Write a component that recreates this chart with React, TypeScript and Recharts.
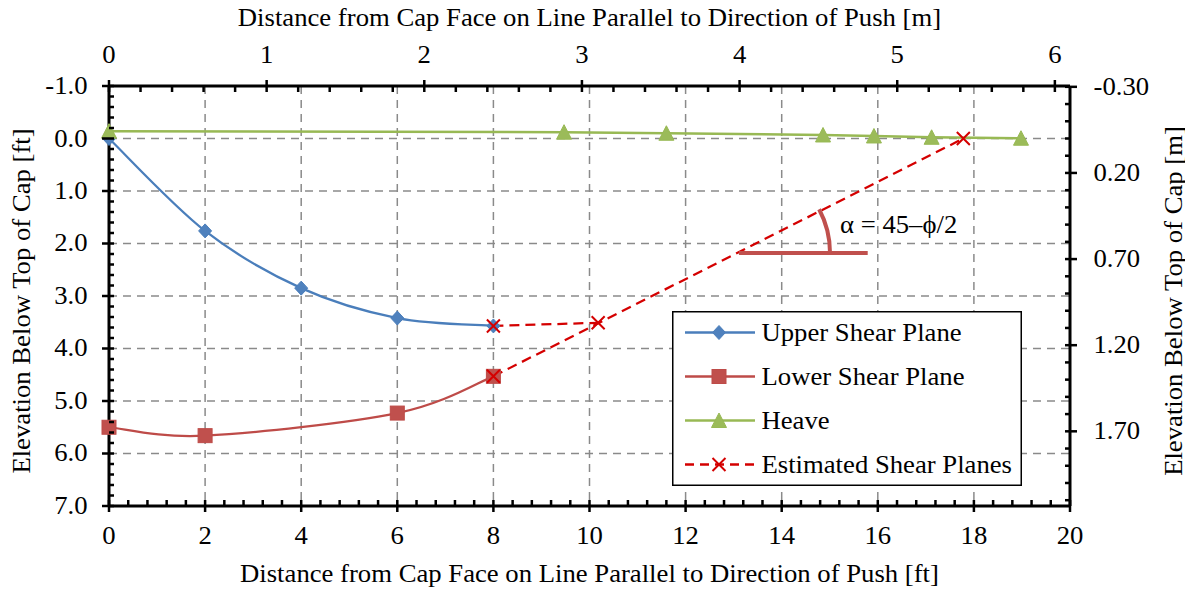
import React from 'react';
import {
  ComposedChart,
  Line,
  XAxis,
  YAxis,
  CartesianGrid,
  Legend,
  ReferenceLine,
  ReferenceDot,
} from 'recharts';

// ---------------- data ----------------
const upperX = [0, 2, 4, 6, 8];
const upperY = [0.0, 1.76, 2.85, 3.42, 3.57];

const lowerX = [0, 2, 6, 8];
const lowerY = [5.5, 5.66, 5.23, 4.53];

const heaveX = [0, 9.47, 11.6, 14.86, 15.92, 17.12, 18.98];
const heaveY = [-0.14, -0.12, -0.1, -0.067, -0.048, -0.023, -0.005];

const estUpperX = [8, 10.18];
const estUpperY = [3.57, 3.51];
const estLowerX = [8, 17.78];
const estLowerY = [4.53, 0.0];

const xMajorFt = [0, 2, 4, 6, 8, 10, 12, 14, 16, 18, 20];
const yMajorFt = [-1, 0, 1, 2, 3, 4, 5, 6, 7];
const xMajorM = [0, 1, 2, 3, 4, 5, 6];
const yMajorM = [-0.3, 0.2, 0.7, 1.2, 1.7];
const xGridFt = [2, 4, 6, 8, 10, 12, 14, 16, 18];
const yGridFt = [0, 1, 2, 3, 4, 5, 6];

const seriesNames = ['Upper Shear Plane', 'Lower Shear Plane', 'Heave', 'Estimated Shear Planes'];
const xTitleFt = 'Distance from Cap Face on Line Parallel to Direction of Push [ft]';
const xTitleM = 'Distance from Cap Face on Line Parallel to Direction of Push [m]';
const yTitleFt = 'Elevation Below Top of Cap [ft]';
const yTitleM = 'Elevation Below Top of Cap [m]';
const angleText = 'α = 45–ϕ/2';
const angleLineX = [13.11, 15.79];
const angleLineY = 2.18;
const angleVertex = { x: 13.07, y: 2.18 };

// ---------------- helpers ----------------
const FT_TO_M = 0.3048;
const steps = (a: number, b: number, s: number) => {
  const out: number[] = [];
  const n = Math.round((b - a) / s);
  for (let i = 0; i <= n; i++) out.push(Math.round((a + i * s) * 1000) / 1000);
  return out;
};
const pts = (xs: number[], ys: number[]) => xs.map((x, i) => ({ x, y: ys[i] }));

const upperData = pts(upperX, upperY);
const lowerData = pts(lowerX, lowerY);
const heaveData = pts(heaveX, heaveY);
const estUpperData = pts(estUpperX, estUpperY);
const estLowerData = pts(estLowerX, estLowerY);

const xTicksFt = steps(0, 20, 0.4);
const yTicksFt = steps(-1, 7, 0.2);
const xTicksM = steps(0, 6, 0.2);
const yTicksM = steps(-0.3, 2.1, 0.1);

const FONT = '"Liberation Serif", "Times New Roman", Times, serif';
const FS = 24.5;
const SX = 1.09;
const BLUE = '#4A7EBB';
const BLUE_F = '#4F81BD';
const RED = '#BE4B48';
const RED_F = '#C0504D';
const GREEN = '#98B954';
const GREEN_F = '#9BBB59';
const EST = '#D40000';

const W = 1193;
const H = 589;
const LEFT_W = 109;
const RIGHT_W = 123;
const TOP_H = 86;
const BOTTOM_H = 83;
const PLOT_L = LEFT_W;
const PLOT_R = W - RIGHT_W;
const PLOT_B = H - BOTTOM_H;

const isMajor = (v: number, majors: number[]) => majors.some((m) => Math.abs(m - v) < 1e-6);

const textStyle = { fontFamily: FONT, fontSize: FS, fill: '#000' } as const;
const tickStroke = { stroke: '#000', strokeWidth: 2.5 } as const;

// Text slightly widened to match the reference's wide serif face
const SText = ({ x, y, anchor = 'start', rotate, children }: any) => {
  const tf = `${rotate ? `rotate(${rotate},${x},${y}) ` : ''}translate(${x},${y}) scale(${SX},1) translate(${-x},${-y})`;
  return (
    <text x={x} y={y} textAnchor={anchor} transform={tf} {...textStyle}>
      {children}
    </text>
  );
};

const makeTick =
  (side: 'bottom' | 'top' | 'left' | 'right', majors: number[], fmt: (v: number) => string) =>
  (props: any) => {
    const { x, y, payload } = props;
    const v = payload.value as number;
    const major = isMajor(v, majors);
    let line: React.ReactNode = null;
    let text: React.ReactNode = null;
    if (side === 'bottom') {
      line = <line x1={x} x2={x} y1={y - 6} y2={major ? y + 6 : y} {...tickStroke} />;
      if (major) text = <SText x={x} y={y + 38.5} anchor="middle">{fmt(v)}</SText>;
    } else if (side === 'top') {
      line = <line x1={x} x2={x} y1={major ? y - 6 : y} y2={y + 6} {...tickStroke} />;
      if (major) text = <SText x={x} y={y - 22.5} anchor="middle">{fmt(v)}</SText>;
    } else if (side === 'left') {
      line = <line x1={major ? x - 7 : x} x2={x + 5} y1={y} y2={y} {...tickStroke} />;
      if (major) text = <SText x={x - 21.5} y={y + 8} anchor="end">{fmt(v)}</SText>;
    } else {
      line = <line x1={x - 5} x2={major ? x + 7 : x} y1={y} y2={y} {...tickStroke} />;
      if (major) text = <SText x={x + 23.5} y={y + 8} anchor="start">{fmt(v)}</SText>;
    }
    return (
      <g>
        {line}
        {text}
      </g>
    );
  };

const BottomTick = makeTick('bottom', xMajorFt, (v) => String(v));
const TopTick = makeTick('top', xMajorM, (v) => String(v));
const LeftTick = makeTick('left', yMajorFt, (v) => v.toFixed(1));
const RightTick = makeTick('right', yMajorM, (v) => v.toFixed(2));

// Excel-like smoothing (Catmull-Rom style Bezier)
const excelCurve = (context: any) => {
  let p: number[][] = [];
  return {
    areaStart() {},
    areaEnd() {},
    lineStart() {
      p = [];
    },
    point(x: number, y: number) {
      p.push([x, y]);
    },
    lineEnd() {
      if (!p.length) return;
      context.moveTo(p[0][0], p[0][1]);
      for (let i = 0; i < p.length - 1; i++) {
        const p0 = p[i - 1] || p[i];
        const p1 = p[i];
        const p2 = p[i + 1];
        const p3 = p[i + 2] || p2;
        context.bezierCurveTo(
          p1[0] + (p2[0] - p0[0]) / 6,
          p1[1] + (p2[1] - p0[1]) / 6,
          p2[0] - (p3[0] - p1[0]) / 6,
          p2[1] - (p3[1] - p1[1]) / 6,
          p2[0],
          p2[1]
        );
      }
    },
  };
};

// markers
const Diamond = ({ cx, cy }: any) => (
  <path d={`M${cx},${cy - 7}L${cx + 6.5},${cy}L${cx},${cy + 7}L${cx - 6.5},${cy}Z`} fill={BLUE_F} stroke={BLUE} strokeWidth={1} />
);
const Square = ({ cx, cy }: any) => (
  <rect x={cx - 7} y={cy - 7} width={14} height={14} fill={RED_F} stroke={RED} strokeWidth={1} />
);
const Triangle = ({ cx, cy }: any) => (
  <path d={`M${cx},${cy - 7.5}L${cx + 7.5},${cy + 7}L${cx - 7.5},${cy + 7}Z`} fill={GREEN_F} stroke={GREEN} strokeWidth={1} />
);
const Cross = ({ cx, cy }: any) => (
  <path d={`M${cx - 6.5},${cy - 6.5}L${cx + 6.5},${cy + 6.5}M${cx - 6.5},${cy + 6.5}L${cx + 6.5},${cy - 6.5}`} stroke={EST} strokeWidth={2} fill="none" />
);

const dotOf = (Comp: any) => (props: any) => {
  const { cx, cy, index } = props;
  if (cx == null || cy == null) return <g key={`n${index}`} />;
  return (
    <g key={`d${index}`}>
      <Comp cx={cx} cy={cy} />
    </g>
  );
};

const LegendBox = () => {
  const rows = [
    { color: BLUE, marker: Diamond, dash: undefined },
    { color: RED, marker: Square, dash: undefined },
    { color: GREEN, marker: Triangle, dash: undefined },
    { color: EST, marker: Cross, dash: '9 6' },
  ];
  return (
    <svg width={350} height={175} style={{ display: 'block' }}>
      <rect x={0.75} y={0.75} width={348.5} height={173.5} fill="#fff" stroke="#000" strokeWidth={1.5} />
      {rows.map((r, i) => {
        const cy = 21.5 + i * 44;
        const M = r.marker;
        return (
          <g key={i}>
            <line x1={13} x2={83} y1={cy} y2={cy} stroke={r.color} strokeWidth={2.5} strokeDasharray={r.dash} />
            <M cx={47} cy={cy} />
            <SText x={89.5} y={cy + 8.5}>
              {seriesNames[i]}
            </SText>
          </g>
        );
      })}
    </svg>
  );
};

const AngleMark = (props: any) => {
  const { cx, cy } = props;
  const r = 93;
  const th = (28 * Math.PI) / 180;
  return (
    <g>
      <path
        d={`M${cx + r},${cy}A${r},${r} 0 0 0 ${cx + r * Math.cos(th)},${cy - r * Math.sin(th)}`}
        fill="none"
        stroke={RED_F}
        strokeWidth={4}
      />
      <SText x={cx + 103} y={cy - 19.5}>
        {angleText}
      </SText>
    </g>
  );
};

const axisLine = { stroke: '#000', strokeWidth: 3 };

export default function App() {
  return (
    <div style={{ width: W, height: H, marginTop: -8, marginLeft: -8 }}>
      <ComposedChart width={W} height={H} margin={{ top: 0, right: 0, bottom: 0, left: 0 }}>
        <CartesianGrid
          xAxisId="ft"
          yAxisId="ft"
          verticalValues={xGridFt}
          horizontalValues={yGridFt}
          stroke="#8A8A8A"
          strokeWidth={1.5}
          strokeDasharray="8 6"
        />
        <XAxis
          xAxisId="ft"
          orientation="bottom"
          type="number"
          dataKey="x"
          domain={[0, 20]}
          ticks={xTicksFt}
          interval={0}
          tickSize={0}
          tickMargin={0}
          tickLine={false}
          tick={BottomTick}
          axisLine={axisLine}
          height={BOTTOM_H}
          label={() => (
            <SText x={(PLOT_L + PLOT_R) / 2} y={PLOT_B + 76.5} anchor="middle">
              {xTitleFt}
            </SText>
          )}
        />
        <XAxis
          xAxisId="m"
          orientation="top"
          type="number"
          dataKey="x"
          domain={[0, 20 * FT_TO_M]}
          allowDataOverflow
          ticks={xTicksM}
          interval={0}
          tickSize={0}
          tickMargin={0}
          tickLine={false}
          tick={TopTick}
          axisLine={axisLine}
          height={TOP_H}
          label={() => (
            <SText x={(PLOT_L + PLOT_R) / 2} y={26} anchor="middle">
              {xTitleM}
            </SText>
          )}
        />
        <YAxis
          yAxisId="ft"
          orientation="left"
          type="number"
          dataKey="y"
          domain={[-1, 7]}
          reversed
          ticks={yTicksFt}
          interval={0}
          tickSize={0}
          tickMargin={0}
          tickLine={false}
          tick={LeftTick}
          axisLine={axisLine}
          width={LEFT_W}
          label={() => (
            <SText x={30} y={301} anchor="middle" rotate={-90}>
              {yTitleFt}
            </SText>
          )}
        />
        <YAxis
          yAxisId="m"
          orientation="right"
          type="number"
          dataKey="y"
          domain={[-1 * FT_TO_M, 7 * FT_TO_M]}
          reversed
          allowDataOverflow
          ticks={yTicksM}
          interval={0}
          tickSize={0}
          tickMargin={0}
          tickLine={false}
          tick={RightTick}
          axisLine={axisLine}
          width={RIGHT_W}
          label={() => (
            <SText x={1182} y={301} anchor="middle" rotate={-90}>
              {yTitleM}
            </SText>
          )}
        />

        <Line
          xAxisId="ft"
          yAxisId="ft"
          data={upperData}
          dataKey="y"
          name={seriesNames[0]}
          type={excelCurve as any}
          stroke={BLUE}
          strokeWidth={2.25}
          dot={dotOf(Diamond)}
          activeDot={false}
          isAnimationActive={false}
        />
        <Line
          xAxisId="ft"
          yAxisId="ft"
          data={lowerData}
          dataKey="y"
          name={seriesNames[1]}
          type={excelCurve as any}
          stroke={RED}
          strokeWidth={2.25}
          dot={dotOf(Square)}
          activeDot={false}
          isAnimationActive={false}
        />
        <Line
          xAxisId="ft"
          yAxisId="ft"
          data={heaveData}
          dataKey="y"
          name={seriesNames[2]}
          type="linear"
          stroke={GREEN}
          strokeWidth={2.5}
          dot={dotOf(Triangle)}
          activeDot={false}
          isAnimationActive={false}
        />
        <Line
          xAxisId="ft"
          yAxisId="ft"
          data={estUpperData}
          dataKey="y"
          name={seriesNames[3]}
          type="linear"
          stroke={EST}
          strokeWidth={2.25}
          strokeDasharray="10 6"
          dot={dotOf(Cross)}
          activeDot={false}
          isAnimationActive={false}
        />
        <Line
          xAxisId="ft"
          yAxisId="ft"
          data={estLowerData}
          dataKey="y"
          name={seriesNames[3] + ' '}
          legendType="none"
          type="linear"
          stroke={EST}
          strokeWidth={2.25}
          strokeDasharray="10 6"
          dot={dotOf(Cross)}
          activeDot={false}
          isAnimationActive={false}
        />

        <ReferenceLine
          xAxisId="ft"
          yAxisId="ft"
          segment={[
            { x: angleLineX[0], y: angleLineY },
            { x: angleLineX[1], y: angleLineY },
          ]}
          stroke={RED_F}
          strokeWidth={4}
        />
        <ReferenceDot
          xAxisId="ft"
          yAxisId="ft"
          x={angleVertex.x}
          y={angleVertex.y}
          r={0}
          shape={AngleMark}
        />

        <Legend
          layout="vertical"
          align="center"
          verticalAlign="middle"
          wrapperStyle={{ left: 672, top: 311, width: 350, height: 175 }}
          content={() => <LegendBox />}
        />
      </ComposedChart>
    </div>
  );
}
